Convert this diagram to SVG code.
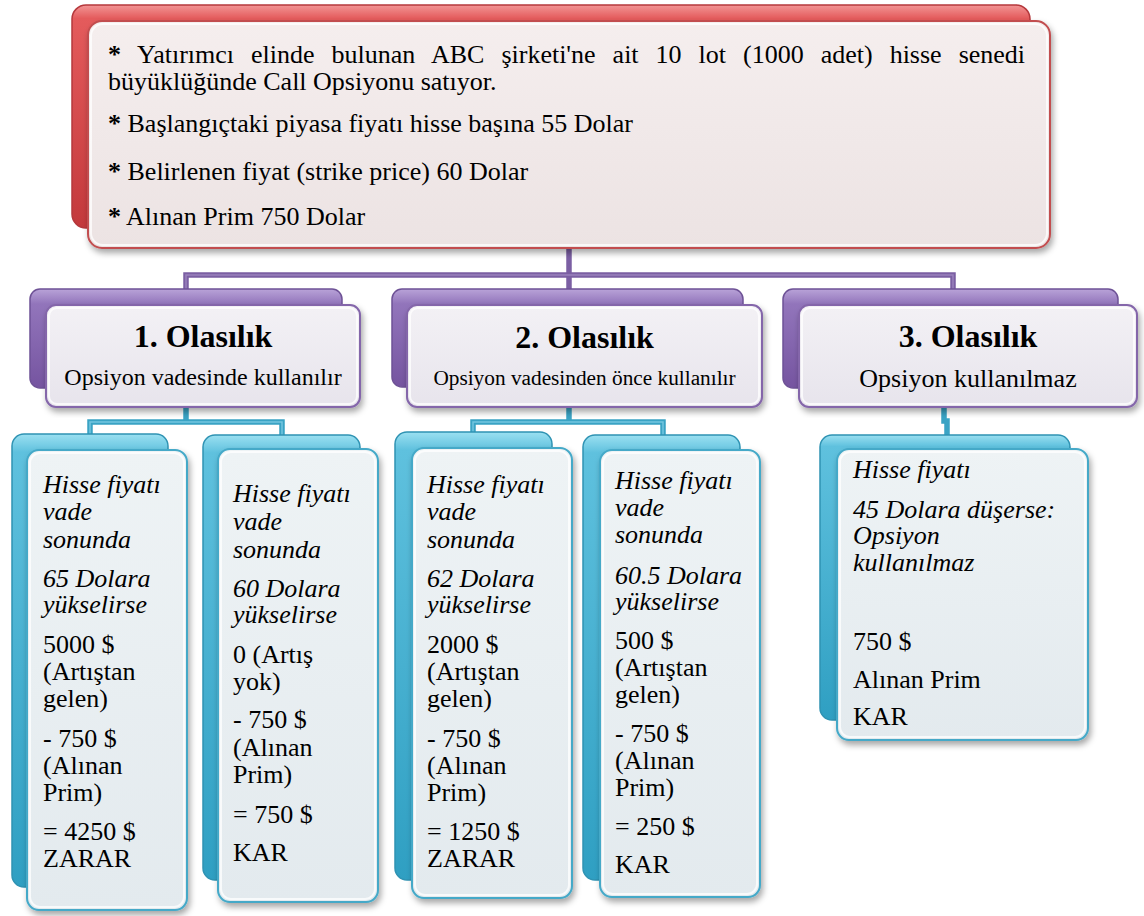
<svg xmlns="http://www.w3.org/2000/svg" width="1144" height="916" viewBox="0 0 1144 916">
<style>
.t{font-family:"Liberation Serif","Times New Roman",serif;fill:#000}
.i{font-style:italic}
.top{font-size:26px}
.leaf{font-size:26px}
.ast{font-weight:bold}
.title{font-size:32px;font-weight:bold;text-anchor:middle}
.sub{text-anchor:middle}
.redback{fill:url(#gRed);stroke:#b5383c;stroke-width:1.5}
.purback{fill:url(#gPur);stroke:#6e5296;stroke-width:1.5}
.cyback{fill:url(#gCy);stroke:#2f93b3;stroke-width:1.5}
.redfront{fill:url(#gRedF);stroke:#c24e4f;stroke-width:2;filter:url(#sh)}
.purfront{fill:url(#gPurF);stroke:#8466aa;stroke-width:2;filter:url(#sh)}
.cyfront{fill:url(#gCyF);stroke:#44a9c8;stroke-width:2;filter:url(#sh)}
.glow{fill:none;stroke:#fff;stroke-opacity:.75;stroke-width:2}
.pc{fill:none;stroke:#7b5fa3;stroke-width:5.5}
.pci{fill:none;stroke:#9a83bd;stroke-width:1.5}
.cc{fill:none;stroke:#3aa3c4;stroke-width:5.5}
.cci{fill:none;stroke:#74c6df;stroke-width:1.5}
</style>
<defs>
<linearGradient id="gRed" x1="0" y1="0" x2="0" y2="1">
<stop offset="0" stop-color="#f29595"/><stop offset="0.06" stop-color="#e45b5c"/><stop offset="1" stop-color="#c3393c"/>
</linearGradient>
<linearGradient id="gPur" x1="0" y1="0" x2="0" y2="1">
<stop offset="0" stop-color="#b9a3d8"/><stop offset="0.15" stop-color="#9275bb"/><stop offset="1" stop-color="#7554a0"/>
</linearGradient>
<linearGradient id="gCy" x1="0" y1="0" x2="0" y2="1">
<stop offset="0" stop-color="#9be0f1"/><stop offset="0.04" stop-color="#5fc1de"/><stop offset="1" stop-color="#2f9fc2"/>
</linearGradient>
<linearGradient id="gRedF" x1="0" y1="0" x2="0" y2="1">
<stop offset="0" stop-color="#f5eeee"/><stop offset="1" stop-color="#ece3e3"/>
</linearGradient>
<linearGradient id="gPurF" x1="0" y1="0" x2="0" y2="1">
<stop offset="0" stop-color="#f3f1f5"/><stop offset="1" stop-color="#e7e4ec"/>
</linearGradient>
<linearGradient id="gCyF" x1="0" y1="0" x2="0" y2="1">
<stop offset="0" stop-color="#eef3f5"/><stop offset="1" stop-color="#e3eaee"/>
</linearGradient>
<filter id="sh" x="-10%" y="-10%" width="120%" height="120%">
<feDropShadow dx="2" dy="4" stdDeviation="3" flood-color="#000" flood-opacity="0.35"/>
</filter>
</defs>

<g id="connectors">
<path class="pc" d="M569,248 V289"/>
<path class="pc" d="M186,289 V275 H953 V289"/>
<path class="pci" d="M186,289 V275 H953 V289"/>
<path class="cc" d="M186,407 V422"/>
<path class="cc" d="M90,435 V422 H282 V435"/>
<path class="cci" d="M90,435 V422 H282 V435"/>
<path class="cc" d="M569,407 V422"/>
<path class="cc" d="M473,432 V422 H663 V435"/>
<path class="cci" d="M473,432 V422 H663 V435"/>
<path class="cc" d="M944,407 V421 H947 V435"/>
</g>

<g id="root">
<rect class="redback" x="72" y="5" width="958" height="223" rx="14"/>
<rect class="redfront" x="88" y="21" width="962" height="227" rx="14"/>
<rect class="glow" x="91" y="24" width="956" height="221" rx="12"/>
<text class="t top" x="108" y="63" word-spacing="10.5"><tspan class="ast">*</tspan> Yatırımcı elinde bulunan ABC şirketi'ne ait 10 lot (1000 adet) hisse senedi</text>
<text class="t top" x="108" y="90">büyüklüğünde Call Opsiyonu satıyor.</text>
<text class="t top" x="108" y="132"><tspan class="ast">*</tspan> Başlangıçtaki piyasa fiyatı hisse başına 55 Dolar</text>
<text class="t top" x="108" y="180"><tspan class="ast">*</tspan> Belirlenen fiyat (strike price) 60 Dolar</text>
<text class="t top" x="108" y="225"><tspan class="ast">*</tspan> Alınan Prim 750 Dolar</text>
</g>

<g id="olasilik1">
<rect class="purback" x="30" y="289" width="312" height="99" rx="10"/>
<rect class="purfront" x="46" y="305" width="314" height="102" rx="10"/>
<rect class="glow" x="49" y="308" width="308" height="96" rx="8"/>
<text class="t title" x="203" y="347">1. Olasılık</text>
<text class="t sub" x="203" y="385" font-size="24">Opsiyon vadesinde kullanılır</text>
</g>

<g id="olasilik2">
<rect class="purback" x="392" y="289" width="351" height="98" rx="10"/>
<rect class="purfront" x="407" y="305" width="355" height="102" rx="10"/>
<rect class="glow" x="410" y="308" width="349" height="96" rx="8"/>
<text class="t title" x="584.5" y="348">2. Olasılık</text>
<text class="t sub" x="584.5" y="385" font-size="21.3">Opsiyon vadesinden önce kullanılır</text>
</g>

<g id="olasilik3">
<rect class="purback" x="783" y="289" width="335" height="99" rx="10"/>
<rect class="purfront" x="799" y="305" width="338" height="102" rx="10"/>
<rect class="glow" x="802" y="308" width="332" height="96" rx="8"/>
<text class="t title" x="968" y="347">3. Olasılık</text>
<text class="t sub" x="968" y="387" font-size="26">Opsiyon kullanılmaz</text>
</g>

<g id="leaf1">
<rect class="cyback" x="12" y="434" width="156" height="453" rx="12"/>
<rect class="cyfront" x="27" y="450" width="160" height="460" rx="12"/>
<rect class="glow" x="30" y="453" width="154" height="454" rx="10"/>
<text class="t leaf i" x="43" y="493">Hisse fiyatı</text>
<text class="t leaf i" x="43" y="520">vade</text>
<text class="t leaf i" x="43" y="548">sonunda</text>
<text class="t leaf i" x="43" y="587">65 Dolara</text>
<text class="t leaf i" x="43" y="613">yükselirse</text>
<text class="t leaf" x="43" y="653">5000 $</text>
<text class="t leaf" x="43" y="680">(Artıştan</text>
<text class="t leaf" x="43" y="707">gelen)</text>
<text class="t leaf" x="43" y="747">- 750 $</text>
<text class="t leaf" x="43" y="774">(Alınan</text>
<text class="t leaf" x="43" y="801">Prim)</text>
<text class="t leaf" x="43" y="840">= 4250 $</text>
<text class="t leaf" x="43" y="867">ZARAR</text>
</g>

<g id="leaf2">
<rect class="cyback" x="203" y="435" width="157" height="445" rx="12"/>
<rect class="cyfront" x="218" y="449" width="160" height="453" rx="12"/>
<rect class="glow" x="221" y="452" width="154" height="447" rx="10"/>
<text class="t leaf i" x="233" y="502">Hisse fiyatı</text>
<text class="t leaf i" x="233" y="530">vade</text>
<text class="t leaf i" x="233" y="558">sonunda</text>
<text class="t leaf i" x="233" y="597">60 Dolara</text>
<text class="t leaf i" x="233" y="623">yükselirse</text>
<text class="t leaf" x="233" y="663">0 (Artış</text>
<text class="t leaf" x="233" y="690">yok)</text>
<text class="t leaf" x="233" y="728">- 750 $</text>
<text class="t leaf" x="233" y="756">(Alınan</text>
<text class="t leaf" x="233" y="783">Prim)</text>
<text class="t leaf" x="233" y="823">= 750 $</text>
<text class="t leaf" x="233" y="861">KAR</text>
</g>

<g id="leaf3">
<rect class="cyback" x="395" y="432" width="157" height="448" rx="12"/>
<rect class="cyfront" x="412" y="448" width="160" height="450" rx="12"/>
<rect class="glow" x="415" y="451" width="154" height="444" rx="10"/>
<text class="t leaf i" x="427" y="493">Hisse fiyatı</text>
<text class="t leaf i" x="427" y="520">vade</text>
<text class="t leaf i" x="427" y="548">sonunda</text>
<text class="t leaf i" x="427" y="587">62 Dolara</text>
<text class="t leaf i" x="427" y="613">yükselirse</text>
<text class="t leaf" x="427" y="653">2000 $</text>
<text class="t leaf" x="427" y="680">(Artıştan</text>
<text class="t leaf" x="427" y="707">gelen)</text>
<text class="t leaf" x="427" y="747">- 750 $</text>
<text class="t leaf" x="427" y="774">(Alınan</text>
<text class="t leaf" x="427" y="801">Prim)</text>
<text class="t leaf" x="427" y="840">= 1250 $</text>
<text class="t leaf" x="427" y="867">ZARAR</text>
</g>

<g id="leaf4">
<rect class="cyback" x="583" y="435" width="157" height="445" rx="12"/>
<rect class="cyfront" x="600" y="450" width="160" height="447" rx="12"/>
<rect class="glow" x="603" y="453" width="154" height="441" rx="10"/>
<text class="t leaf i" x="615" y="489">Hisse fiyatı</text>
<text class="t leaf i" x="615" y="516">vade</text>
<text class="t leaf i" x="615" y="543">sonunda</text>
<text class="t leaf i" x="615" y="584">60.5 Dolara</text>
<text class="t leaf i" x="615" y="610">yükselirse</text>
<text class="t leaf" x="615" y="649">500 $</text>
<text class="t leaf" x="615" y="676">(Artıştan</text>
<text class="t leaf" x="615" y="703">gelen)</text>
<text class="t leaf" x="615" y="742">- 750 $</text>
<text class="t leaf" x="615" y="769">(Alınan</text>
<text class="t leaf" x="615" y="796">Prim)</text>
<text class="t leaf" x="615" y="835">= 250 $</text>
<text class="t leaf" x="615" y="873">KAR</text>
</g>

<g id="leaf5">
<rect class="cyback" x="820" y="435" width="250" height="285" rx="12"/>
<rect class="cyfront" x="837" y="449" width="251" height="291" rx="12"/>
<rect class="glow" x="840" y="452" width="245" height="285" rx="10"/>
<text class="t leaf i" x="853" y="478">Hisse fiyatı</text>
<text class="t leaf i" x="853" y="518">45 Dolara düşerse:</text>
<text class="t leaf i" x="853" y="544">Opsiyon</text>
<text class="t leaf i" x="853" y="571">kullanılmaz</text>
<text class="t leaf" x="853" y="650">750 $</text>
<text class="t leaf" x="853" y="688">Alınan Prim</text>
<text class="t leaf" x="853" y="725">KAR</text>
</g>
</svg>
